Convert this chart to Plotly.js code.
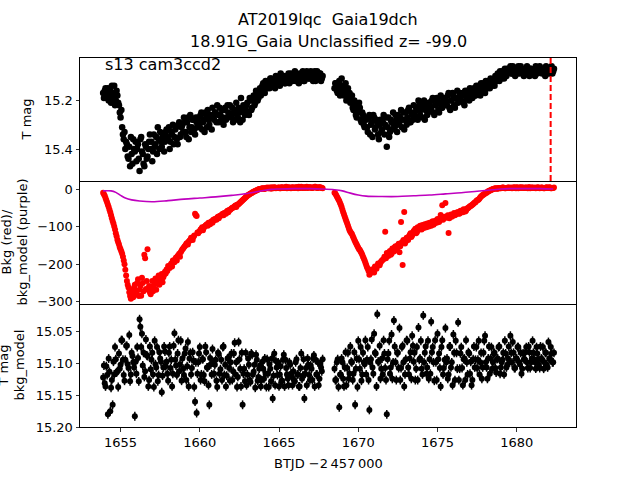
<!DOCTYPE html>
<html><head><meta charset="utf-8">
<script src="https://cdn.plot.ly/plotly-3.0.1.min.js"></script>
<style>body{margin:0;background:#fff}#chart{width:640px;height:480px}</style>
</head><body><div id="chart"></div>
<script>
// ---- data ----
const t1 = [1653.9,1654.0,1654.1,1654.2,1654.3,1654.4,1654.5,1654.6,1654.7,1654.8,
1654.9,1655.0,1655.1,1655.2,1655.3,1655.4,1655.5,1655.6,1655.7,1655.8,
1655.9,1656.0,1656.1,1656.2,1656.3,1656.4,1656.5,1656.6,1656.7,1656.8,
1656.9,1657.0,1657.1,1657.2,1657.3,1657.4,1657.5,1657.6,1657.7,1657.8,
1657.9,1658.0,1658.1,1658.2,1658.3,1658.4,1658.5,1658.6,1658.7,1658.8,
1658.9,1659.0,1659.1,1659.2,1659.3,1659.4,1659.5,1659.6,1659.7,1659.8,
1659.9,1660.0,1660.1,1660.2,1660.3,1660.4,1660.5,1660.6,1660.7,1660.8,
1660.9,1661.0,1661.1,1661.2,1661.3,1661.4,1661.5,1661.6,1661.7,1661.8,
1661.9,1662.0,1662.1,1662.2,1662.3,1662.4,1662.5,1662.6,1662.7,1662.8,
1662.9,1663.0,1663.1,1663.2,1663.3,1663.4,1663.5,1663.6,1663.7,1663.8,
1663.9,1664.0,1664.1,1664.2,1664.3,1664.4,1664.5,1664.6,1664.7,1664.8,
1664.9,1665.0,1665.1,1665.2,1665.3,1665.4,1665.5,1665.6,1665.7,1665.8,
1665.9,1666.0,1666.1,1666.2,1666.3,1666.4,1666.5,1666.6,1666.7,1666.8,
1666.9,1667.0,1667.1,1667.2,1667.3,1667.4,1667.5,1667.6,1667.7];
const t1b = [1653.95,1654.05,1654.15,1654.25,1654.35,1654.45,1654.55,1654.65,1654.75,1654.85,
1654.95,1655.05,1655.15,1655.25,1655.35,1655.45,1655.55,1655.65,1655.75,1655.85,
1655.95,1656.05,1656.15,1656.25,1656.35,1656.45,1656.55,1656.65,1656.75,1656.85,
1656.95,1657.05,1657.15,1657.25,1657.35,1657.45,1657.55,1657.65,1657.75,1657.85,
1657.95,1658.05,1658.15,1658.25,1658.35,1658.45,1658.55,1658.65,1658.75,1658.85,
1658.95,1659.05,1659.15,1659.25,1659.35,1659.45,1659.55,1659.65,1659.75,1659.85,
1659.95,1660.05,1660.15,1660.25,1660.35,1660.45,1660.55,1660.65,1660.75,1660.85,
1660.95,1661.05,1661.15,1661.25,1661.35,1661.45,1661.55,1661.65,1661.75,1661.85,
1661.95,1662.05,1662.15,1662.25,1662.35,1662.45,1662.55,1662.65,1662.75,1662.85,
1662.95,1663.05,1663.15,1663.25,1663.35,1663.45,1663.55,1663.65,1663.75,1663.85,
1663.95,1664.05,1664.15,1664.25,1664.35,1664.45,1664.55,1664.65,1664.75,1664.85,
1664.95,1665.05,1665.15,1665.25,1665.35,1665.45,1665.55,1665.65,1665.75,1665.85,
1665.95,1666.05,1666.15,1666.25,1666.35,1666.45,1666.55,1666.65,1666.75,1666.85,
1666.95,1667.05,1667.15,1667.25,1667.35,1667.45,1667.55,1667.65,1667.75];
const t2 = [1668.5,1668.6,1668.7,1668.8,1668.9,1669.0,1669.1,1669.2,1669.3,1669.4,
1669.5,1669.6,1669.7,1669.8,1669.9,1670.0,1670.1,1670.2,1670.3,1670.4,
1670.5,1670.6,1670.7,1670.8,1670.9,1671.0,1671.1,1671.2,1671.3,1671.4,
1671.5,1671.6,1671.7,1671.8,1671.9,1672.0,1672.1,1672.2,1672.3,1672.4,
1672.5,1672.6,1672.7,1672.8,1672.9,1673.0,1673.1,1673.2,1673.3,1673.4,
1673.5,1673.6,1673.7,1673.8,1673.9,1674.0,1674.1,1674.2,1674.3,1674.4,
1674.5,1674.6,1674.7,1674.8,1674.9,1675.0,1675.1,1675.2,1675.3,1675.4,
1675.5,1675.6,1675.7,1675.8,1675.9,1676.0,1676.1,1676.2,1676.3,1676.4,
1676.5,1676.6,1676.7,1676.8,1676.9,1677.0,1677.1,1677.2,1677.3,1677.4,
1677.5,1677.6,1677.7,1677.8,1677.9,1678.0,1678.1,1678.2,1678.3,1678.4,
1678.5,1678.6,1678.7,1678.8,1678.9,1679.0,1679.1,1679.2,1679.3,1679.4,
1679.5,1679.6,1679.7,1679.8,1679.9,1680.0,1680.1,1680.2,1680.3,1680.4,
1680.5,1680.6,1680.7,1680.8,1680.9,1681.0,1681.1,1681.2,1681.3,1681.4,
1681.5,1681.6,1681.7,1681.8,1681.9,1682.0,1682.1,1682.2,1682.3];
const t2b = [1668.55,1668.65,1668.75,1668.85,1668.95,1669.05,1669.15,1669.25,1669.35,1669.45,
1669.55,1669.65,1669.75,1669.85,1669.95,1670.05,1670.15,1670.25,1670.35,1670.45,
1670.55,1670.65,1670.75,1670.85,1670.95,1671.05,1671.15,1671.25,1671.35,1671.45,
1671.55,1671.65,1671.75,1671.85,1671.95,1672.05,1672.15,1672.25,1672.35,1672.45,
1672.55,1672.65,1672.75,1672.85,1672.95,1673.05,1673.15,1673.25,1673.35,1673.45,
1673.55,1673.65,1673.75,1673.85,1673.95,1674.05,1674.15,1674.25,1674.35,1674.45,
1674.55,1674.65,1674.75,1674.85,1674.95,1675.05,1675.15,1675.25,1675.35,1675.45,
1675.55,1675.65,1675.75,1675.85,1675.95,1676.05,1676.15,1676.25,1676.35,1676.45,
1676.55,1676.65,1676.75,1676.85,1676.95,1677.05,1677.15,1677.25,1677.35,1677.45,
1677.55,1677.65,1677.75,1677.85,1677.95,1678.05,1678.15,1678.25,1678.35,1678.45,
1678.55,1678.65,1678.75,1678.85,1678.95,1679.05,1679.15,1679.25,1679.35,1679.45,
1679.55,1679.65,1679.75,1679.85,1679.95,1680.05,1680.15,1680.25,1680.35,1680.45,
1680.55,1680.65,1680.75,1680.85,1680.95,1681.05,1681.15,1681.25,1681.35,1681.45,
1681.55,1681.65,1681.75,1681.85,1681.95,1682.05,1682.15,1682.25,1682.35];

// T mag (top panel)
const tmag1 = [15.17,15.16,15.19,15.15,15.18,15.21,15.17,15.14,15.20,15.18,
15.22,15.27,15.31,15.36,15.40,15.38,15.44,15.47,15.42,15.36,
15.41,15.45,15.38,15.49,15.35,15.42,15.47,15.39,15.43,15.37,
15.40,15.45,15.34,15.38,15.42,15.36,15.33,15.39,15.35,15.37,
15.32,15.36,15.40,15.33,15.30,15.35,15.31,15.38,15.29,15.34,
15.30,15.27,15.33,15.29,15.36,15.26,15.31,15.28,15.34,15.29,
15.27,15.31,15.25,15.29,15.33,15.26,15.24,15.30,15.27,15.23,
15.28,15.25,15.22,15.29,15.26,15.24,15.30,15.23,15.27,15.25,
15.22,15.26,15.29,15.24,15.21,15.27,15.25,15.19,15.28,15.23,
15.24,15.21,15.26,15.20,15.23,15.18,15.21,15.17,15.19,15.15,
15.16,15.13,15.17,15.14,15.12,15.15,15.11,15.14,15.12,15.10,
15.13,15.11,15.09,15.12,15.10,15.13,15.11,15.09,15.12,15.10,
15.11,15.08,15.12,15.10,15.09,15.11,15.08,15.12,15.10,15.09,
15.11,15.08,15.10,15.09,15.12,15.08,15.10,15.09,15.11];
const tmag1b = [15.19,15.15,15.17,15.20,15.16,15.14,15.19,15.22,15.16,15.21,
15.25,15.24,15.34,15.33,15.37,15.43,15.39,15.35,15.46,15.40,
15.37,15.40,15.44,15.36,15.41,15.46,15.38,15.44,15.40,15.34,
15.37,15.41,15.39,15.35,15.31,15.40,15.37,15.34,15.41,15.33,
15.35,15.31,15.37,15.34,15.38,15.32,15.36,15.30,15.35,15.31,
15.33,15.29,15.35,15.27,15.31,15.33,15.28,15.32,15.27,15.31,
15.29,15.26,15.32,15.28,15.25,15.31,15.28,15.26,15.32,15.26,
15.25,15.29,15.26,15.23,15.28,15.27,15.24,15.28,15.22,15.26,
15.27,15.23,15.25,15.28,15.26,15.23,15.29,15.24,15.22,15.26,
15.22,15.25,15.19,15.24,15.20,15.22,15.16,15.20,15.16,15.18,
15.14,15.16,15.12,15.15,15.13,15.11,15.14,15.12,15.15,15.12,
15.11,15.14,15.12,15.10,15.13,15.11,15.10,15.13,15.09,15.12,
15.09,15.12,15.10,15.13,15.11,15.09,15.12,15.10,15.08,15.11,
15.09,15.11,15.12,15.08,15.10,15.11,15.09,15.12,15.10];
const tmag2 = [15.15,15.13,15.17,15.12,15.16,15.14,15.18,15.13,15.16,15.19,
15.21,15.18,15.24,15.22,15.27,15.25,15.23,15.29,15.26,15.31,
15.28,15.33,15.26,15.30,15.35,15.27,15.31,15.29,15.36,15.28,
15.32,15.26,15.30,15.39,15.27,15.33,15.29,15.25,15.31,15.28,
15.26,15.30,15.24,15.28,15.32,15.25,15.27,15.23,15.29,15.26,
15.22,15.27,15.24,15.20,15.26,15.23,15.21,15.28,15.22,15.25,
15.21,15.24,15.19,15.26,15.22,15.20,15.25,15.18,15.23,15.21,
15.19,15.22,15.17,15.24,15.20,15.18,15.23,15.19,15.21,15.17,
15.20,15.17,15.22,15.18,15.16,15.20,15.17,15.19,15.15,15.18,
15.16,15.14,15.18,15.15,15.13,15.17,15.14,15.12,15.15,15.13,
15.12,15.14,15.11,15.09,15.12,15.10,15.08,15.11,15.09,15.07,
15.08,15.06,15.09,15.07,15.10,15.08,15.06,15.09,15.07,15.08,
15.09,15.07,15.08,15.10,15.07,15.09,15.08,15.06,15.09,15.08,
15.07,15.09,15.08,15.10,15.07,15.08,15.09,15.06,15.08];
const tmag2b = [15.13,15.16,15.14,15.18,15.11,15.15,15.17,15.20,15.15,15.17,
15.19,15.23,15.20,15.26,15.24,15.21,15.28,15.25,15.30,15.27,
15.31,15.27,15.34,15.29,15.26,15.32,15.28,15.34,15.30,15.33,
15.29,15.34,15.27,15.31,15.35,15.28,15.32,15.30,15.26,15.33,
15.29,15.27,15.31,15.25,15.28,15.30,15.24,15.29,15.25,15.28,
15.25,15.23,15.28,15.22,15.24,15.27,15.20,15.24,15.26,15.21,
15.23,15.20,15.25,15.22,15.19,15.24,15.21,15.23,15.19,15.22,
15.21,15.18,15.23,15.20,15.17,15.22,15.19,15.16,15.20,15.18,
15.18,15.21,15.16,15.19,15.17,15.15,15.19,15.16,15.18,15.14,
15.15,15.17,15.13,15.16,15.14,15.12,15.15,15.13,15.11,15.14,
15.13,15.10,15.12,15.10,15.08,15.11,15.09,15.07,15.10,15.08,
15.07,15.09,15.06,15.08,15.07,15.09,15.08,15.06,15.08,15.10,
15.08,15.06,15.09,15.07,15.09,15.08,15.10,15.07,15.08,15.06,
15.08,15.07,15.09,15.06,15.09,15.08,15.07,15.09,15.07];

// Background (red, middle panel)
const bkg1 = [-10,-18,-30,-42,-55,-70,-85,-100,-118,-135,
-148,-160,-172,-190,-215,-245,-262,-285,-270,-288,
-255,-278,-240,-268,-284,-250,-175,-266,-160,-258,
-280,-245,-262,-238,-252,-230,-244,-226,-235,-220,
-214,-205,-210,-198,-190,-195,-182,-178,-172,-168,
-160,-155,-150,-144,-140,-135,-132,-128,-66,-72,
-118,-112,-106,-110,-100,-96,-98,-92,-88,-90,
-84,-80,-76,-78,-72,-68,-70,-64,-60,-62,
-56,-52,-50,-46,-48,-42,-38,-34,-30,-26,
-22,-18,-15,-12,-10,-7,-5,-3,-1,0,
1,2,0,3,2,4,1,3,5,2,
3,4,2,5,3,4,2,5,3,4,
4,3,5,2,4,6,3,4,5,3,
4,5,3,4,6,3,5,4,3];
const bkg1b = [-14,-24,-36,-48,-62,-78,-92,-108,-126,-142,
-155,-166,-180,-200,-230,-255,-275,-292,-280,-262,
-270,-250,-285,-258,-236,-272,-184,-245,-268,-275,
-260,-272,-250,-268,-242,-255,-236,-248,-228,-225,
-218,-208,-202,-206,-194,-186,-190,-176,-180,-164,
-158,-152,-146,-148,-138,-130,-136,-124,-70,-116,
-114,-108,-102,-104,-98,-94,-90,-94,-86,-82,
-80,-82,-74,-72,-70,-66,-64,-66,-58,-56,
-54,-50,-48,-44,-42,-40,-36,-32,-28,-24,
-20,-16,-13,-11,-8,-6,-4,-2,0,1,
2,1,3,4,2,3,5,2,4,3,
4,2,5,3,4,6,3,4,2,5,
3,5,4,6,3,4,5,3,6,4,
5,3,4,6,4,3,5,4,2];
const bkg2 = [-10,-16,-24,-32,-42,-55,-68,-80,-92,-104,
-114,-120,-130,-140,-148,-156,-162,-170,-180,-190,
-202,-212,-228,-220,-215,-222,-210,-205,-200,-196,
-190,-186,-114,-170,-178,-165,-172,-160,-155,-162,
-150,-168,-88,-202,-61,-140,-132,-126,-118,-124,
-112,-106,-115,-104,-98,-108,-100,-94,-102,-96,
-90,-98,-86,-92,-84,-80,-88,-69,-43,-78,
-37,-76,-117,-72,-74,-68,-70,-66,-62,-65,
-60,-62,-56,-58,-52,-48,-45,-42,-38,-35,
-30,-28,-22,-18,-15,-12,-10,-6,-4,-2,
0,1,2,1,3,2,4,3,2,3,
4,3,2,4,3,5,2,4,3,4,
3,4,2,5,3,4,3,2,4,3,
3,4,2,3,5,3,4,2,3];
const bkg2b = [-12,-20,-28,-37,-48,-62,-74,-86,-98,-110,
-117,-125,-135,-144,-152,-160,-166,-175,-185,-196,
-208,-218,-225,-214,-218,-206,-212,-198,-203,-192,
-188,-180,-184,-174,-168,-175,-158,-166,-152,-158,
-146,-152,-142,-136,-145,-130,-136,-122,-128,-116,
-110,-118,-102,-108,-100,-96,-104,-98,-92,-100,
-94,-88,-95,-86,-90,-82,-84,-78,-82,-74,
-76,-70,-78,-68,-72,-64,-68,-62,-66,-58,
-58,-54,-60,-52,-50,-46,-43,-40,-36,-32,
-29,-25,-20,-16,-13,-10,-8,-5,-3,-1,
1,2,1,3,2,3,4,2,3,4,
3,4,3,5,2,4,3,5,4,3,
4,3,5,2,4,3,4,3,5,2,
4,3,2,4,3,5,2,3,4];

// Background model (purple line)
const tm1 = [1653.9,1654.4,1654.7,1655.0,1655.3,1655.7,1656.2,1657.0,1658.0,1659.0,1660.0,1661.0,1662.0,1663.0,1663.5,1664.0,1664.5,1665.0,1666.0,1667.0,1667.7];
const bm1 = [-5,-5,-9,-17,-24,-29,-32,-34,-31,-27,-24,-21,-17,-12,-8,-4,-1,0,1,1,0];
const tm2 = [1668.5,1669.0,1669.5,1670.0,1670.5,1671.5,1672.5,1673.5,1674.5,1675.5,1676.5,1677.5,1678.5,1679.0,1679.5,1680.5,1681.5,1682.3];
const bm2 = [-2,-5,-11,-16,-19,-20,-20,-18,-16,-13,-10,-6,-2,0,1,1,1,0];

// T mag - bkg_model (bottom panel)
const cmag1 = [15.122,15.131,15.104,15.180,15.113,15.138,15.165,15.117,15.093,15.112,
15.084,15.102,15.063,15.118,15.094,15.072,15.107,15.128,15.083,15.098,
15.183,15.116,15.091,15.030,15.074,15.103,15.121,15.062,15.088,15.126,
15.109,15.083,15.137,15.101,15.074,15.118,15.092,15.145,15.106,15.081,
15.097,15.127,15.073,15.094,15.116,15.052,15.103,15.084,15.112,15.064,
15.092,15.118,15.076,15.104,15.136,15.083,15.107,15.095,15.160,15.178,
15.098,15.074,15.117,15.093,15.128,15.082,15.106,15.165,15.101,15.077,
15.116,15.094,15.137,15.085,15.109,15.126,15.073,15.102,15.119,15.091,
15.127,15.084,15.112,15.067,15.098,15.121,15.093,15.136,15.165,15.108,
15.083,15.117,15.102,15.129,15.086,15.113,15.138,15.094,15.121,15.103,
15.126,15.108,15.092,15.137,15.116,15.101,15.128,15.155,15.084,15.096,
15.118,15.136,15.104,15.127,15.086,15.094,15.117,15.134,15.102,15.121,
15.112,15.128,15.093,15.117,15.136,15.084,15.119,15.155,15.107,15.092,
15.118,15.103,15.126,15.087,15.094,15.117,15.134,15.101,15.112];
const cmag1b = [15.103,15.136,15.118,15.092,15.175,15.126,15.097,15.074,15.114,15.137,
15.108,15.063,15.094,15.127,15.072,15.101,15.055,15.117,15.088,15.106,
15.097,15.074,15.128,15.042,15.053,15.083,15.112,15.087,15.136,15.073,
15.094,15.117,15.064,15.106,15.128,15.082,15.097,15.119,15.073,15.104,
15.116,15.083,15.107,15.136,15.072,15.094,15.118,15.063,15.101,15.127,
15.108,15.084,15.126,15.066,15.092,15.117,15.082,15.137,15.098,15.116,
15.084,15.126,15.093,15.118,15.073,15.106,15.134,15.091,15.117,15.098,
15.102,15.127,15.083,15.116,15.094,15.074,15.118,15.136,15.092,15.107,
15.098,15.126,15.084,15.117,15.137,15.066,15.108,15.083,15.116,15.128,
15.134,15.092,15.126,15.084,15.117,15.102,15.086,15.127,15.108,15.136,
15.097,15.124,15.116,15.093,15.137,15.108,15.092,15.119,15.134,15.106,
15.098,15.117,15.128,15.094,15.136,15.107,15.124,15.098,15.116,15.134,
15.126,15.098,15.117,15.136,15.107,15.124,15.093,15.116,15.134,15.102,
15.126,15.108,15.092,15.136,15.117,15.098,15.124,15.106,15.093];
const cmag2 = [15.108,15.126,15.093,15.169,15.117,15.098,15.136,15.082,15.107,15.124,
15.073,15.098,15.116,15.165,15.092,15.064,15.108,15.127,15.083,15.101,
15.117,15.074,15.173,15.093,15.106,15.053,15.084,15.022,15.097,15.124,
15.092,15.063,15.107,15.180,15.084,15.116,15.054,15.098,15.073,15.126,
15.083,15.044,15.107,15.072,15.136,15.093,15.064,15.117,15.082,15.056,
15.097,15.126,15.074,15.043,15.092,15.108,15.024,15.083,15.116,15.064,
15.093,15.034,15.074,15.127,15.098,15.053,15.084,15.136,15.063,15.107,
15.044,15.092,15.117,15.073,15.098,15.054,15.126,15.083,15.035,15.108,
15.074,15.134,15.092,15.063,15.117,15.084,15.097,15.126,15.073,15.094,
15.107,15.064,15.098,15.124,15.083,15.056,15.106,15.092,15.116,15.074,
15.098,15.083,15.114,15.092,15.073,15.106,15.094,15.117,15.084,15.102,
15.073,15.056,15.098,15.083,15.107,15.092,15.074,15.101,15.116,15.084,
15.093,15.074,15.107,15.082,15.098,15.064,15.093,15.108,15.084,15.102,
15.073,15.094,15.108,15.083,15.102,15.066,15.093,15.084,15.098];
const cmag2b = [15.126,15.098,15.137,15.117,15.092,15.124,15.106,15.134,15.083,15.116,
15.097,15.126,15.082,15.108,15.137,15.093,15.074,15.117,15.098,15.063,
15.094,15.126,15.098,15.062,15.116,15.083,15.136,15.097,15.072,15.108,
15.117,15.084,15.126,15.093,15.064,15.106,15.124,15.032,15.098,15.083,
15.107,15.126,15.074,15.098,15.117,15.063,15.106,15.092,15.124,15.072,
15.083,15.108,15.126,15.094,15.064,15.117,15.098,15.073,15.106,15.124,
15.116,15.082,15.098,15.063,15.126,15.093,15.107,15.074,15.117,15.094,
15.098,15.124,15.073,15.106,15.134,15.083,15.064,15.108,15.126,15.084,
15.107,15.093,15.126,15.098,15.082,15.116,15.134,15.093,15.106,15.074,
15.094,15.117,15.083,15.106,15.064,15.098,15.124,15.073,15.092,15.108,
15.084,15.107,15.093,15.074,15.116,15.098,15.083,15.064,15.106,15.092,
15.098,15.083,15.066,15.107,15.092,15.074,15.098,15.083,15.108,15.093,
15.082,15.098,15.073,15.107,15.092,15.083,15.098,15.074,15.093,15.107,
15.092,15.074,15.098,15.083,15.106,15.092,15.074,15.098,15.083];

const discoveryT = 1682.14;
const titleLines = ['AT2019lqc\u00a0\u00a0Gaia19dch', '18.91G_Gaia Unclassified z= -99.0'];
const panelLabel = 's13 cam3ccd2';
const yLabels = ['T mag', 'Bkg (red)/<br>bkg_model (purple)', 'T mag<br>bkg_model'];
const xLabel = 'BTJD \u22122\u2009457\u2009000';

// ---- chart ----
const tAll = t1.concat(t1b, t2, t2b);
const FONT = 'DejaVu Sans, Liberation Sans, sans-serif';

const traces = [
  {x: tAll, y: tmag1.concat(tmag1b, tmag2, tmag2b), xaxis: 'x3', yaxis: 'y3', type: 'scatter', mode: 'markers',
   marker: {color: '#000', size: 6.5}, hoverinfo: 'skip'},
  {x: tAll, y: bkg1.concat(bkg1b, bkg2, bkg2b), xaxis: 'x2', yaxis: 'y2', type: 'scatter', mode: 'markers',
   marker: {color: '#ff0000', size: 6}, hoverinfo: 'skip'},
  {x: tm1.concat(tm2), y: bm1.concat(bm2), xaxis: 'x2', yaxis: 'y2', type: 'scatter', mode: 'lines',
   line: {color: '#bf00bf', width: 1.6, shape: 'spline'}, hoverinfo: 'skip'},
  {x: tAll, y: cmag1.concat(cmag1b, cmag2, cmag2b), xaxis: 'x', yaxis: 'y', type: 'scatter', mode: 'markers',
   marker: {color: '#000', size: 6},
   error_y: {type: 'constant', value: 0.007, color: '#000', thickness: 1.5, width: 0},
   hoverinfo: 'skip'}
];

const xr = [1652.44, 1683.74];
const axBase = {showline: true, mirror: true, linecolor: '#000', linewidth: 1, showgrid: false, zeroline: false,
  ticks: 'outside', ticklen: 3.5, tickwidth: 0.8, tickcolor: '#000',
  tickfont: {family: FONT, size: 13, color: '#000'}};

const txt = (size) => ({family: FONT, size: size, color: '#000'});

const layout = {
  width: 640, height: 480,
  margin: {l: 80, r: 64, t: 58, b: 53},
  paper_bgcolor: '#fff', plot_bgcolor: '#fff',
  showlegend: false,
  font: {family: FONT, color: '#000'},
  xaxis: Object.assign({}, axBase, {domain: [0, 1], anchor: 'y', range: xr, tick0: 1655, dtick: 5, mirror: false}),
  xaxis2: Object.assign({}, axBase, {domain: [0, 1], anchor: 'y2', range: xr, matches: 'x', ticks: '', showticklabels: false, mirror: false}),
  xaxis3: Object.assign({}, axBase, {domain: [0, 1], anchor: 'y3', range: xr, matches: 'x', ticks: '', showticklabels: false, mirror: true}),
  yaxis: Object.assign({}, axBase, {domain: [0, 1/3], anchor: 'x', range: [15.2, 15.006], tick0: 15, dtick: 0.05, tickformat: '.2f'}),
  yaxis2: Object.assign({}, axBase, {domain: [1/3, 2/3], anchor: 'x2', range: [-306, 21.3], dtick: 100}),
  yaxis3: Object.assign({}, axBase, {domain: [2/3, 1], anchor: 'x3', range: [15.531, 15.026], tickvals: [15.2, 15.4], tickformat: '.1f'}),
  shapes: [
    {type: 'line', xref: 'x3', yref: 'y3 domain', x0: discoveryT, x1: discoveryT, y0: 0, y1: 1,
     line: {color: '#ff0000', width: 2, dash: '6px,3px'}}
  ],
  annotations: [
    {text: titleLines[0], xref: 'paper', yref: 'paper', x: 0.5, y: 1.103, xanchor: 'center', yanchor: 'middle',
     showarrow: false, font: txt(16)},
    {text: titleLines[1], xref: 'paper', yref: 'paper', x: 0.5, y: 1.0434, xanchor: 'center', yanchor: 'middle',
     showarrow: false, font: txt(16)},
    {text: panelLabel, xref: 'paper', yref: 'paper', x: 0.046, y: 0.982, xanchor: 'left', yanchor: 'middle',
     showarrow: false, font: txt(16)},
    {text: yLabels[0], xref: 'paper', yref: 'paper', x: -0.107, y: 5/6, xanchor: 'center', yanchor: 'middle',
     textangle: -90, showarrow: false, font: txt(13)},
    {text: yLabels[1], xref: 'paper', yref: 'paper', x: -0.133, y: 0.5, xanchor: 'center', yanchor: 'middle',
     textangle: -90, showarrow: false, font: txt(13)},
    {text: yLabels[2], xref: 'paper', yref: 'paper', x: -0.139, y: 1/6, xanchor: 'center', yanchor: 'middle',
     textangle: -90, showarrow: false, font: txt(13)},
    {text: xLabel, xref: 'paper', yref: 'paper', x: 0.5, y: -0.0976, xanchor: 'center', yanchor: 'middle',
     showarrow: false, font: txt(13)}
  ]
};

Plotly.newPlot('chart', traces, layout, {displayModeBar: false, staticPlot: true});
</script>
</body></html>
